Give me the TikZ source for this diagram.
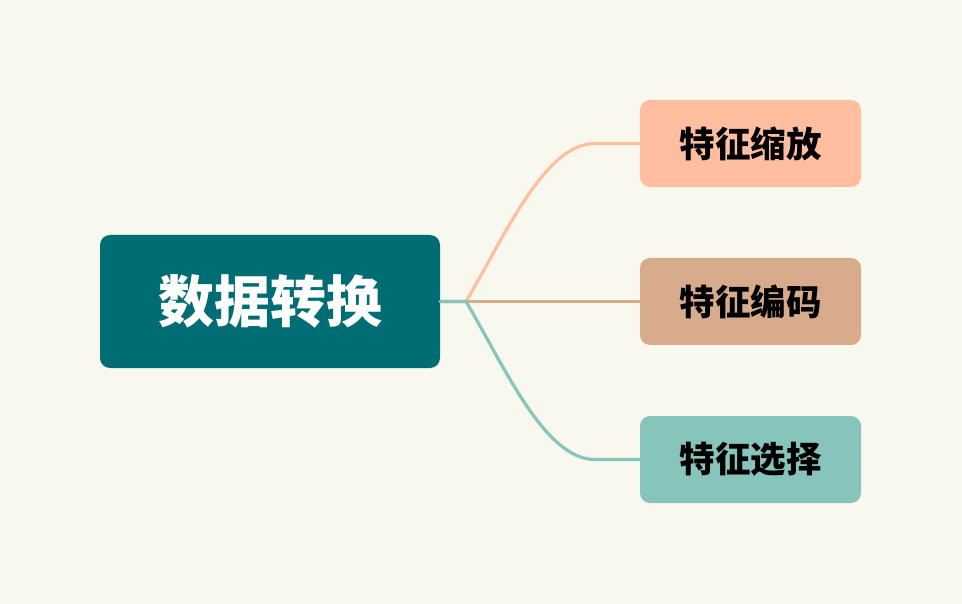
\documentclass[tikz,border=0pt]{standalone}
\usepackage{fontspec}
\newfontfamily\cjk{Noto Sans CJK SC}
\usepackage{tikz}
\usetikzlibrary{calc}
\definecolor{paper}{RGB}{248,248,238}
\definecolor{deepteal}{RGB}{0,109,117}
\definecolor{peach}{RGB}{255,190,159}
\definecolor{tan}{RGB}{215,171,140}
\definecolor{mint}{RGB}{134,196,188}
\tikzset{
  rootbox/.style={rectangle,rounded corners=10pt,fill=deepteal,text=white,
    minimum width=340pt,minimum height=133pt,inner sep=0pt,
    font=\cjk\bfseries\fontsize{56}{62}\selectfont},
  leafbox/.style={rectangle,rounded corners=10pt,text=black,
    minimum width=221pt,minimum height=87pt,inner sep=0pt,
    font=\cjk\bfseries\fontsize{35.5}{42}\selectfont},
  branch/.style={line width=3.2pt,line cap=round}
}

\begin{document}
\begin{tikzpicture}[x=1pt,y=-1pt]
  \fill[paper] (0,0) rectangle (962,604);
  \useasboundingbox (0,0) rectangle (962,604);

  \node[rootbox] (root) at (270,301.5) {数据转换};

  \node[leafbox,fill=peach] (scale) at (750.5,143.5) {特征缩放};
  \node[leafbox,fill=tan]   (encode) at (750.5,301.5) {特征编码};
  \node[leafbox,fill=mint]  (select) at (750.5,459.5) {特征选择};

  \coordinate (fork) at (466,301.5);

  \draw[branch,peach] (root.east) -- (fork)
    .. controls +(39,-66) and +(-50,0) .. ($(scale.west)+(-45,0)$) -- (scale.west);
  \draw[branch,tan] (fork) -- (encode.west);
  \draw[branch,mint] (root.east) -- (fork)
    .. controls +(39,66) and +(-50,0) .. ($(select.west)+(-45,0)$) -- (select.west);
\end{tikzpicture}
\end{document}
